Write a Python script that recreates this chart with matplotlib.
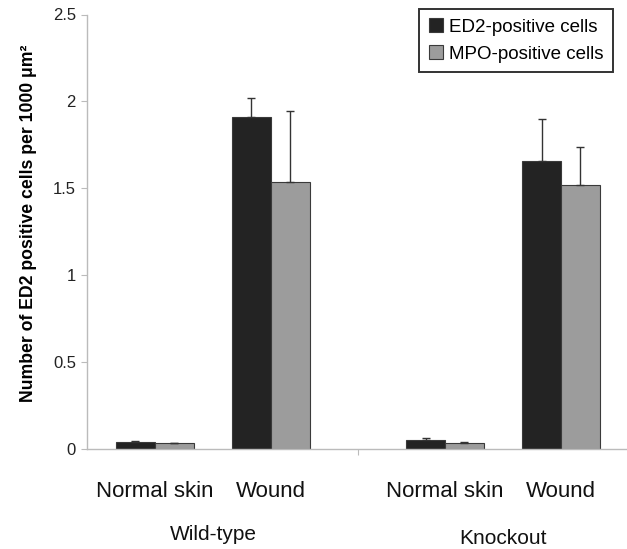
import numpy as np
import matplotlib
matplotlib.use("Agg")
import matplotlib.pyplot as plt

plt.rcParams['font.family'] = ['Liberation Sans', 'DejaVu Sans']

# data
conditions = ['Normal skin', 'Wound', 'Normal skin', 'Wound']
groups = ['Wild-type', 'Knockout']
ed2_mean = [0.038, 1.91, 0.052, 1.655]
ed2_err = [0.010, 0.11, 0.013, 0.245]
mpo_mean = [0.033, 1.534, 0.036, 1.52]
mpo_err = [0.000, 0.41, 0.006, 0.215]

pos = np.array([0, 1, 2.5, 3.5])
group_pos = [0.5, 3.0]
w = 0.336

fig = plt.figure(figsize=(6.27, 5.49), dpi=100)
ax = fig.add_axes([87 / 627, 1 - 449 / 549, 540 / 627, 434.5 / 549])

zeros = np.zeros(len(pos))
ax.bar(pos - w / 2, ed2_mean, w, color='#232323', edgecolor='#3a3a3a', linewidth=0.8,
       yerr=[zeros, ed2_err], ecolor='#333333', capsize=3, error_kw=dict(elinewidth=1, capthick=1),
       label='ED2-positive cells', zorder=2)
ax.bar(pos + w / 2, mpo_mean, w, color='#9c9c9c', edgecolor='#3a3a3a', linewidth=0.8,
       yerr=[zeros, mpo_err], ecolor='#333333', capsize=3, error_kw=dict(elinewidth=1, capthick=1),
       label='MPO-positive cells', zorder=2)

ax.set_ylim(0, 2.5)
ax.set_xlim(-0.586, 4.069)
ax.set_yticks([0, 0.5, 1, 1.5, 2, 2.5])
ax.set_yticklabels(['0', '0.5', '1', '1.5', '2', '2.5'], fontsize=12, color='#222222')

# divider tick between the two groups
ax.set_xticks([1.75])
ax.set_xticklabels([''])
ax.tick_params(axis='x', which='major', length=4, color='#bbbbbb', direction='out')
ax.tick_params(axis='y', length=4, color='#bbbbbb', pad=4)

xt = ax.get_xaxis_transform()
for x, name in zip(pos, conditions):
    ax.text(x, -0.11, name, transform=xt, ha='center', va='baseline', fontsize=16, color='#111111')
for gx, gname, gy in zip(group_pos, groups, [-0.209, -0.219]):
    ax.text(gx, gy, gname, transform=xt, ha='center', va='baseline', fontsize=15, color='#111111')

for side in ['top', 'right']:
    ax.spines[side].set_visible(False)
for side in ['left', 'bottom']:
    ax.spines[side].set_color('#bbbbbb')
    ax.spines[side].set_linewidth(1)

ax.set_ylabel('Number of ED2 positive cells per 1000 μm²', fontsize=12.7, fontweight='bold')
ax.yaxis.set_label_coords(-0.093, 0.52)

leg = ax.legend(loc='upper right', bbox_to_anchor=(613 / 627, 1 - 9 / 549),
                bbox_transform=fig.transFigure, fontsize=13.5, frameon=True, fancybox=False,
                borderaxespad=0, handlelength=0.75, handleheight=0.75, handletextpad=0.35,
                borderpad=0.5, labelspacing=0.5)
leg.get_frame().set_edgecolor('black')
leg.get_frame().set_linewidth(1.4)

fig.savefig('out.png', dpi=100)
